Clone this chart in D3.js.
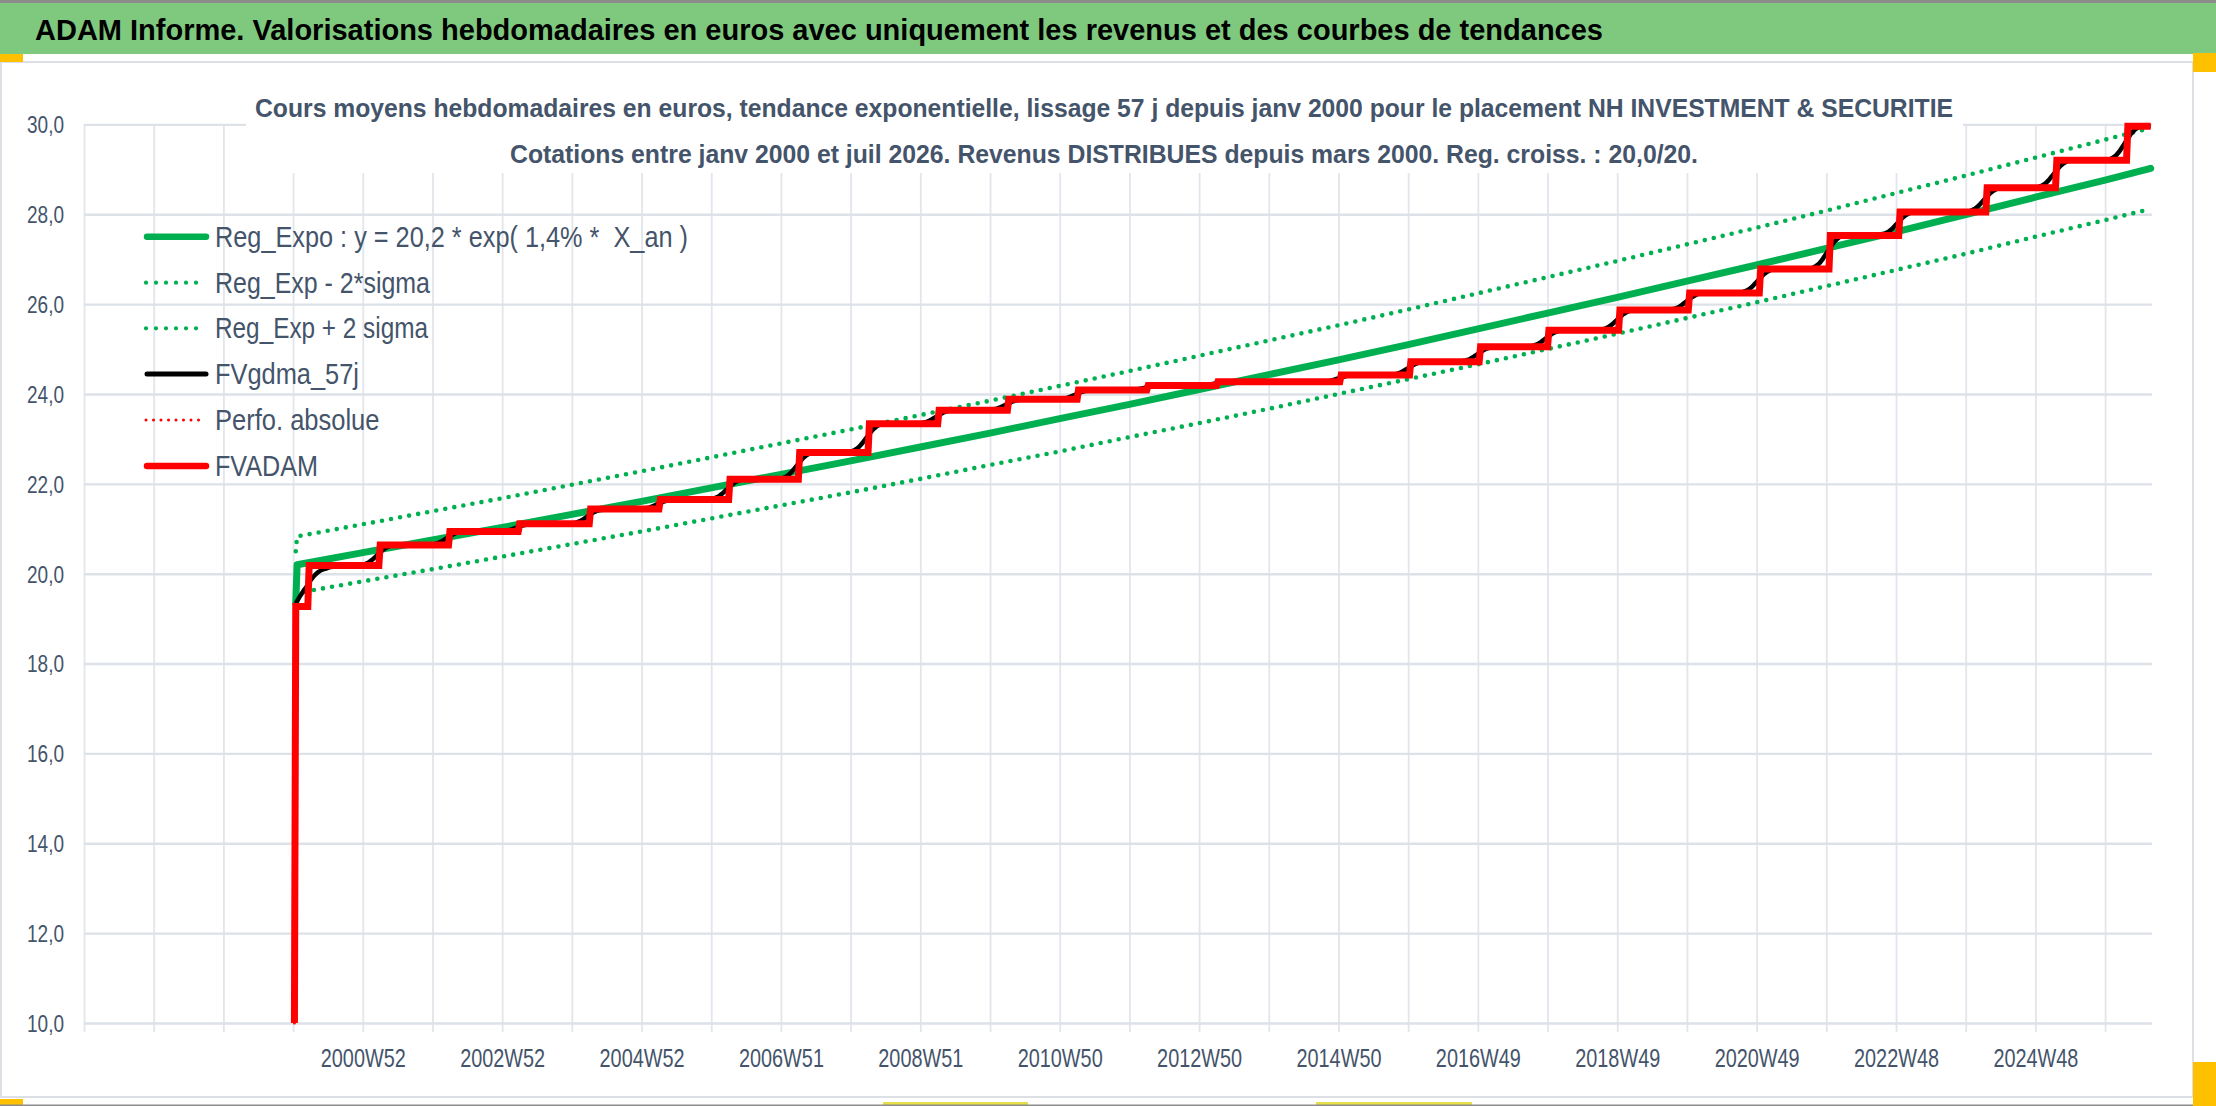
<!DOCTYPE html>
<html><head><meta charset="utf-8">
<script src="https://cdn.jsdelivr.net/npm/d3@7"></script>
<style>
html,body{margin:0;padding:0;background:#fff;overflow:hidden}
svg{display:block}
text{white-space:pre}
</style></head><body>
<svg id="c" width="2216" height="1106"></svg>
<script>
// ---------------- DATA ----------------
const headerTitle = "ADAM Informe. Valorisations hebdomadaires en euros avec uniquement les revenus et des courbes de tendances";
const chartTitleLines = [
  "Cours moyens hebdomadaires en euros, tendance exponentielle, lissage 57 j depuis janv 2000 pour le placement NH INVESTMENT & SECURITIE",
  "Cotations entre janv 2000 et juil 2026. Revenus DISTRIBUES depuis mars 2000. Reg. croiss. : 20,0/20."
];
const legendLabels = ["Reg_Expo : y = 20,2 * exp( 1,4% *  X_an )", "Reg_Exp - 2*sigma", "Reg_Exp + 2 sigma", "FVgdma_57j", "Perfo. absolue", "FVADAM"];
const yTicks = [10, 12, 14, 16, 18, 20, 22, 24, 26, 28, 30];
// category axis: weekly categories (index), tick marks every 52 weeks
const totalWeeks = 1543;
const tickEvery = 52;
const xLabelWeeks = [208, 312, 416, 520, 624, 728, 832, 936, 1040, 1144, 1248, 1352, 1456];
const xLabels = ["2000W52", "2002W52", "2004W52", "2006W51", "2008W51", "2010W50", "2012W50", "2014W50", "2016W49", "2018W49", "2020W49", "2022W48", "2024W48"];

// FVADAM (valuation with distributed revenues): step levels
const firstWeek = 158, lastWeek = 1542;
const fvFloorValue = 10;
const fvStartLevel = 19.27;
const stepWeeks  = [168, 221, 273, 325, 378, 430, 482, 534, 586, 638, 690, 742, 794, 846, 938, 990, 1042, 1093, 1146, 1198, 1251, 1303, 1355, 1420, 1472, 1525];
const stepLevels = [20.18, 20.64, 20.94, 21.11, 21.44, 21.65, 22.10, 22.70, 23.34, 23.64, 23.88, 24.09, 24.19, 24.27, 24.42, 24.72, 25.05, 25.42, 25.87, 26.25, 26.78, 27.53, 28.05, 28.59, 29.20, 29.96];

const blackStart = [19.34, 19.39, 19.44, 19.49, 19.54, 19.58, 19.63, 19.67, 19.71, 19.76, 19.80, 19.85, 19.89, 19.93, 19.96, 19.99, 20.02, 20.04, 20.06, 20.08, 20.09, 20.10, 20.11, 20.12, 20.13, 20.14, 20.15, 20.15, 20.16, 20.16, 20.17];
const profileBefore = 14;
const blackProfile = [0.02, 0.04, 0.06, 0.08, 0.11, 0.14, 0.18, 0.23, 0.28, 0.34, 0.40, 0.46, 0.52, 0.58, 0.64, 0.70, 0.76, 0.81, 0.85, 0.89, 0.92, 0.95, 0.97, 0.99, 1.0];

// Trend lines (sampled at tick weeks)
const trendWeeks = [158, 159, 208, 260, 312, 364, 416, 468, 520, 572, 624, 676, 728, 780, 832, 884, 936, 988, 1040, 1092, 1144, 1196, 1248, 1300, 1352, 1404, 1456, 1508, 1542];
const regValues   = [19.35, 20.20, 20.47, 20.75, 21.03, 21.32, 21.61, 21.91, 22.21, 22.51, 22.82, 23.13, 23.45, 23.77, 24.10, 24.43, 24.76, 25.10, 25.45, 25.80, 26.15, 26.51, 26.87, 27.24, 27.61, 27.99, 28.38, 28.76, 29.02];
const regMinusValues = [19.57, 19.57, 19.83, 20.10, 20.38, 20.66, 20.94, 21.23, 21.52, 21.81, 22.11, 22.42, 22.72, 23.04, 23.35, 23.67, 24.00, 24.33, 24.66, 25.00, 25.34, 25.69, 26.04, 26.40, 26.76, 27.12, 27.50, 27.87, 28.12];
const regPlusValues  = [20.50, 20.83, 21.10, 21.39, 21.68, 21.98, 22.28, 22.59, 22.90, 23.21, 23.53, 23.85, 24.18, 24.51, 24.85, 25.19, 25.53, 25.88, 26.24, 26.60, 26.96, 27.33, 27.70, 28.08, 28.47, 28.86, 29.26, 29.66, 29.92];

// ---------------- LAYOUT ----------------
const W = 2216, H = 1106;
const FONT = "'Liberation Sans Narrow','Liberation Sans',Arial,sans-serif";
const TXT = "#44546a";
const GREEN = "#00b050", RED = "#ff0000";
const plot = {l: 84, r: 2152, t: 124.4, b: 1023};

const svg = d3.select("#c");
const x = d3.scaleLinear().domain([0, totalWeeks]).range([plot.l, plot.r]);
const y = d3.scaleLinear().domain([10, 30]).range([plot.b, plot.t]);

// background / frame
svg.append("rect").attr("x", 0).attr("y", 0).attr("width", W).attr("height", H).attr("fill", "#fff");
svg.append("rect").attr("x", 0).attr("y", 0).attr("width", W).attr("height", 3).attr("fill", "#8c8c8c");
svg.append("rect").attr("x", 0).attr("y", 3).attr("width", W).attr("height", 51).attr("fill", "#7fc97f");
svg.append("text").attr("x", 35).attr("y", 39.5).attr("font-family", FONT).attr("font-weight", "bold")
  .attr("font-size", 29).attr("fill", "#000").attr("textLength", 1568).attr("lengthAdjust", "spacingAndGlyphs")
  .text(headerTitle);
svg.append("rect").attr("x", 1).attr("y", 62).attr("width", 2192).attr("height", 1035)
  .attr("fill", "#fff").attr("stroke", "#dcdfe4").attr("stroke-width", 2);
// selection marks
const gold = "#ffc000";
svg.append("rect").attr("x", 0).attr("y", 54).attr("width", 23).attr("height", 8).attr("fill", gold);
svg.append("rect").attr("x", 2193).attr("y", 53).attr("width", 23).attr("height", 19).attr("fill", gold);
svg.append("rect").attr("x", 2193).attr("y", 1062).attr("width", 23).attr("height", 44).attr("fill", gold);
svg.append("rect").attr("x", 0).attr("y", 1099).attr("width", 23).attr("height", 7).attr("fill", gold);
svg.append("rect").attr("x", 883).attr("y", 1102).attr("width", 145).attr("height", 4).attr("fill", "#e6df4a");
svg.append("rect").attr("x", 1316).attr("y", 1102).attr("width", 156).attr("height", 4).attr("fill", "#e6df4a");
svg.append("rect").attr("x", 0).attr("y", 1104.5).attr("width", 2193).attr("height", 1.5).attr("fill", "#8c8c8c");

// gridlines
const vGrid = svg.append("g").attr("transform", `translate(0,${plot.b + 9})`)
  .call(d3.axisBottom(x).tickValues(d3.range(0, totalWeeks, tickEvery)).tickSize(-(plot.b + 9 - plot.t)).tickFormat(""));
vGrid.select(".domain").remove();
vGrid.selectAll("line").attr("stroke", "#e2e5eb").attr("stroke-width", 1.8);

const hGrid = svg.append("g").attr("transform", `translate(${plot.l},0)`)
  .call(d3.axisLeft(y).tickValues(yTicks).tickSize(-(plot.r - plot.l)).tickFormat(""));
hGrid.select(".domain").remove();
hGrid.selectAll("line").attr("stroke", "#dde1e8").attr("stroke-width", 2.4);

// y labels
const yAx = svg.append("g").attr("transform", `translate(${plot.l},0)`)
  .call(d3.axisLeft(y).tickValues(yTicks).tickSize(0).tickPadding(20).tickFormat(d => d.toFixed(1).replace(".", ",")));
yAx.select(".domain").remove();
yAx.selectAll("text").attr("font-family", FONT).attr("font-size", 23.5).attr("fill", TXT)
  .attr("dy", null).attr("y", 8.4).attr("textLength", 37).attr("lengthAdjust", "spacingAndGlyphs");

// x labels
const xAx = svg.append("g").attr("transform", `translate(0,${plot.b})`)
  .call(d3.axisBottom(x).tickValues(xLabelWeeks).tickSize(0).tickFormat((d, i) => xLabels[i]));
xAx.select(".domain").remove();
xAx.selectAll("text").attr("font-family", FONT).attr("font-size", 25.5).attr("fill", TXT)
  .attr("dy", null).attr("y", 43.7).attr("textLength", 85).attr("lengthAdjust", "spacingAndGlyphs");

// chart title (opaque box)
svg.append("rect").attr("x", 246).attr("y", 70).attr("width", 1717).attr("height", 103).attr("fill", "#fff");
const titleGeom = [{x0: 255, x1: 1953, base: 116.7}, {x0: 510, x1: 1698, base: 162.7}];
chartTitleLines.forEach((t, i) => {
  const g = titleGeom[i];
  svg.append("text").attr("x", g.x0).attr("y", g.base).attr("font-family", FONT).attr("font-weight", "bold")
    .attr("font-size", 25.5).attr("fill", TXT).attr("textLength", g.x1 - g.x0).attr("lengthAdjust", "spacingAndGlyphs").text(t);
});

// ---------------- SERIES ----------------
function levelAt(w) {
  let lv = fvStartLevel;
  for (let j = 0; j < stepWeeks.length; j++) if (w >= stepWeeks[j]) lv = stepLevels[j];
  return lv;
}
const fvSeries = [{w: firstWeek - 1, v: fvFloorValue}];
for (let w = firstWeek; w <= lastWeek; w++) fvSeries.push({w, v: levelAt(w)});

const prevLevels = [fvStartLevel].concat(stepLevels.slice(0, -1));
const blackSeries = [];
for (let w = firstWeek; w <= lastWeek; w++) {
  const k = w - firstWeek;
  if (k < blackStart.length) { blackSeries.push({w, v: blackStart[k]}); continue; }
  let v = levelAt(w);
  for (let j = 1; j < stepWeeks.length; j++) {
    const d = w - stepWeeks[j];
    if (d >= -profileBefore && d < blackProfile.length - profileBefore) {
      v = prevLevels[j] + blackProfile[d + profileBefore] * (stepLevels[j] - prevLevels[j]);
    }
  }
  blackSeries.push({w, v});
}
const toPts = vals => trendWeeks.map((w, i) => ({w, v: vals[i]}));

const line = d3.line().x(d => x(d.w)).y(d => y(d.v));
const series = svg.append("g").attr("fill", "none");
series.append("path").datum(toPts(regValues)).attr("d", line)
  .attr("stroke", GREEN).attr("stroke-width", 7).attr("stroke-linejoin", "round").attr("stroke-linecap", "round");
series.append("path").datum(toPts(regMinusValues)).attr("d", line)
  .attr("stroke", GREEN).attr("stroke-width", 4.6).attr("stroke-dasharray", "0 9.2").attr("stroke-linecap", "round");
series.append("path").datum(toPts(regPlusValues)).attr("d", line)
  .attr("stroke", GREEN).attr("stroke-width", 4.6).attr("stroke-dasharray", "0 9.2").attr("stroke-linecap", "round");
series.append("path").datum(blackSeries).attr("d", line)
  .attr("stroke", "#000").attr("stroke-width", 4.5).attr("stroke-linejoin", "round");
series.append("path").datum(fvSeries).attr("d", line)
  .attr("stroke", RED).attr("stroke-width", 3).attr("stroke-dasharray", "0 7").attr("stroke-linecap", "round");
series.append("path").datum(fvSeries).attr("d", line)
  .attr("stroke", RED).attr("stroke-width", 7).attr("stroke-linejoin", "miter");

// ---------------- LEGEND ----------------
const legendRows = [236.7, 282.7, 328.3, 374, 420, 466];
const legendTextW = [473, 215, 213, 144, 164.5, 103];
const legendStyles = [
  {c: GREEN, w: 6.5, dash: null, cap: "round"},
  {c: GREEN, w: 4.2, dash: "0 10", cap: "round"},
  {c: GREEN, w: 4.2, dash: "0 10", cap: "round"},
  {c: "#000", w: 5, dash: null, cap: "round"},
  {c: RED, w: 3, dash: "0 7.5", cap: "round"},
  {c: RED, w: 6.5, dash: null, cap: "round"}
];
const lg = svg.append("g");
legendLabels.forEach((lab, i) => {
  const st = legendStyles[i], yy = legendRows[i];
  const dotted = !!st.dash;
  lg.append("line").attr("x1", dotted ? 146 : 147).attr("x2", dotted ? 206 : 206).attr("y1", yy).attr("y2", yy)
    .attr("stroke", st.c).attr("stroke-width", st.w).attr("stroke-linecap", st.cap)
    .attr("stroke-dasharray", st.dash);
  lg.append("text").attr("x", 215).attr("y", yy + 10).attr("font-family", FONT).attr("font-size", 29)
    .attr("fill", TXT).attr("textLength", legendTextW[i]).attr("lengthAdjust", "spacingAndGlyphs").text(lab);
});
</script>
</body></html>
